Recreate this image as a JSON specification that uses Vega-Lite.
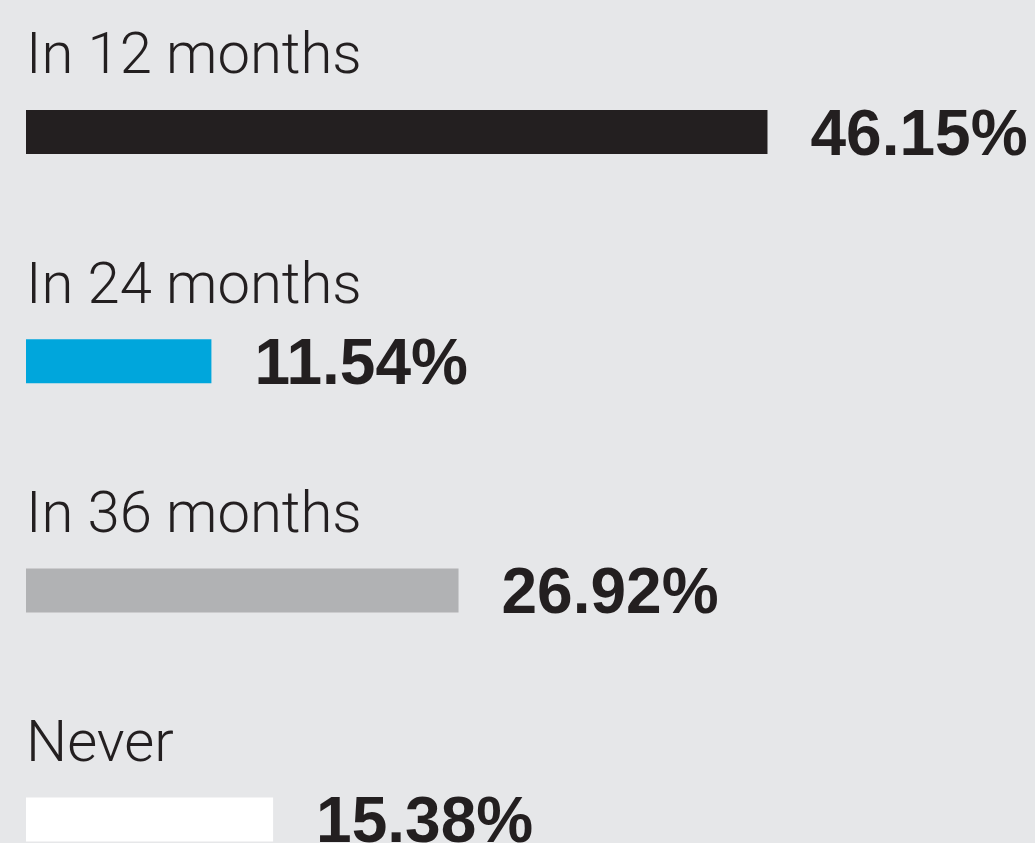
{
  "$schema": "https://vega.github.io/schema/vega-lite/v6.json",
  "width": 1009,
  "height": 843,
  "autosize": "none",
  "padding": {"left": 26, "top": 0, "right": 0, "bottom": 0},
  "background": "#e6e7e9",
  "config": {"view": {"stroke": null}},
  "data": {"values": [
    {"label": "In 12 months", "value": 46.15},
    {"label": "In 24 months", "value": 11.54},
    {"label": "In 36 months", "value": 26.92},
    {"label": "Never", "value": 15.38}
  ]},
  "encoding": {
    "y": {"field": "label", "type": "nominal", "sort": null, "axis": null,
          "scale": {"range": [17.4, 934.2], "paddingInner": 0, "paddingOuter": 0}},
    "x": {"field": "value", "type": "quantitative", "axis": null,
          "scale": {"domain": [0, 62.8], "nice": false, "zero": true}}
  },
  "layer": [
    {
      "mark": {"type": "bar", "height": 44},
      "encoding": {
        "color": {"field": "label", "type": "nominal", "legend": null,
                  "scale": {"domain": ["In 12 months", "In 24 months", "In 36 months", "Never"],
                            "range": ["#231f20", "#00a6dc", "#b1b2b4", "#ffffff"]}}
      }
    },
    {
      "mark": {"type": "text", "align": "left", "baseline": "alphabetic", "dy": -58.7,
               "font": "Roboto", "fontWeight": 300, "fontSize": 58, "color": "#231f20"},
      "encoding": {"x": {"datum": 0}, "text": {"field": "label"}}
    },
    {
      "mark": {"type": "text", "align": "left", "baseline": "alphabetic", "dy": 22.5, "dx": 43,
               "font": "Liberation Sans", "fontWeight": "bold", "fontSize": 64, "color": "#231f20",
               "text": {"expr": "format(datum.value, '.2f') + '%'"}}
    }
  ]
}
